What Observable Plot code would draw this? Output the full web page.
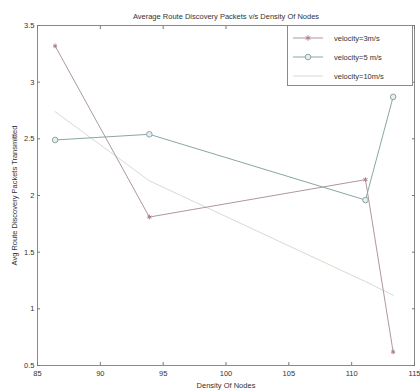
<!DOCTYPE html>
<html>
<head>
<meta charset="utf-8">
<script src="https://cdn.jsdelivr.net/npm/d3@7"></script>
<script src="https://cdn.jsdelivr.net/npm/@observablehq/plot@0.6"></script>
<style>
  html, body { margin: 0; padding: 0; background: #fff; }
  #wrap { position: relative; width: 420px; height: 392px; font-family: "Liberation Sans", Arial, sans-serif; }
  #legend { position: absolute; left: 287px; top: 25px; width: 126px; height: 61px; border: 1px solid #8a8a8a; background: #fff; box-sizing: border-box; }
  .row { position: absolute; left: 4px; height: 12px; font-size: 7.5px; color: #333; display: flex; align-items: center; }
  .row span { margin-left: 10px; }
</style>
</head>
<body>
<div id="wrap"></div>
<script>
const title = "Average Route Discovery Packets v/s Density Of Nodes";
const xLabel = "Density Of Nodes";
const yLabel = "Avg Route Discovery Packets Transmitted";
const density = [86.4, 93.9, 111.1, 113.3];
const vel3 = [3.32, 1.81, 2.14, 0.62];
const vel5 = [2.49, 2.54, 1.96, 2.87];
const vel10 = [2.74, 2.13, 1.24, 1.12];
const seriesNames = ["velocity=3m/s", "velocity=5 m/s", "velocity=10m/s"];
const xTicks = [85, 90, 95, 100, 105, 110, 115];
const yTicks = [0.5, 1, 1.5, 2, 2.5, 3, 3.5];
const colors = ["#ad989c", "#8aa6a6", "#d6dccd"];

const rows = (vals) => density.map((d, i) => ({x: d, y: vals[i]}));
const d3s = rows(vel3), d5s = rows(vel5), d10s = rows(vel10);

const chart = Plot.plot({
  width: 420,
  height: 392,
  marginLeft: 37,
  marginRight: 6,
  marginTop: 25,
  marginBottom: 27,
  style: {fontFamily: "'Liberation Sans', Arial, sans-serif", fontSize: "7.5px", color: "#333", background: "#fff"},
  x: {domain: [85, 115]},
  y: {domain: [0.5, 3.5]},
  marks: [
    Plot.frame({stroke: "#8a8a8a"}),
    Plot.axisX({anchor: "bottom", ticks: xTicks, tickSize: -3, tickPadding: 8, tickFormat: d => String(d), stroke: "#777", label: xLabel, labelAnchor: "center", labelArrow: "none", labelOffset: 22}),
    Plot.axisX({anchor: "top", ticks: xTicks, tickSize: -3, stroke: "#777", tickFormat: () => "", label: null}),
    Plot.axisY({anchor: "left", ticks: yTicks, tickSize: -3, tickPadding: 6, tickFormat: d => String(d), stroke: "#777", label: yLabel, labelAnchor: "center", labelArrow: "none", labelOffset: 26}),
    Plot.axisY({anchor: "right", ticks: yTicks, tickSize: -3, stroke: "#777", tickFormat: () => "", label: null}),
    Plot.line(d10s, {x: "x", y: "y", stroke: colors[2], strokeWidth: 1}),
    Plot.line(d5s, {x: "x", y: "y", stroke: colors[1], strokeWidth: 1}),
    Plot.dot(d5s, {x: "x", y: "y", stroke: colors[1], fill: "#e8eeee", r: 2.8, strokeWidth: 1}),
    Plot.line(d3s, {x: "x", y: "y", stroke: colors[0], strokeWidth: 1}),
    Plot.dot(d3s, {x: "x", y: "y", stroke: "#b07a86", symbol: "asterisk", r: 2.2, strokeWidth: 1}),
    Plot.text([title], {frameAnchor: "top", dy: -12, fontSize: 7.5, fill: "#333"})
  ]
});
const wrap = document.getElementById("wrap");
wrap.appendChild(chart);

// legend
const legend = document.createElement("div");
legend.id = "legend";
const markers = ["asterisk", "circle", null];
seriesNames.forEach((name, i) => {
  const row = document.createElement("div");
  row.className = "row";
  row.style.top = (6 + i * 19) + "px";
  const s = d3.create("svg").attr("width", 32).attr("height", 12);
  s.append("line").attr("x1", 1).attr("x2", 31).attr("y1", 6).attr("y2", 6).attr("stroke", colors[i]).attr("stroke-width", 1);
  if (markers[i] === "circle") s.append("circle").attr("cx", 16).attr("cy", 6).attr("r", 2.8).attr("fill", "#e8eeee").attr("stroke", colors[i]);
  if (markers[i] === "asterisk") s.append("path").attr("transform", "translate(16,6)").attr("d", d3.symbol(d3.symbolAsterisk, 20)()).attr("stroke", "#b07a86").attr("fill", "none");
  row.appendChild(s.node());
  const t = document.createElement("span");
  t.textContent = name;
  row.appendChild(t);
  legend.appendChild(row);
});
wrap.appendChild(legend);
</script>
</body>
</html>
